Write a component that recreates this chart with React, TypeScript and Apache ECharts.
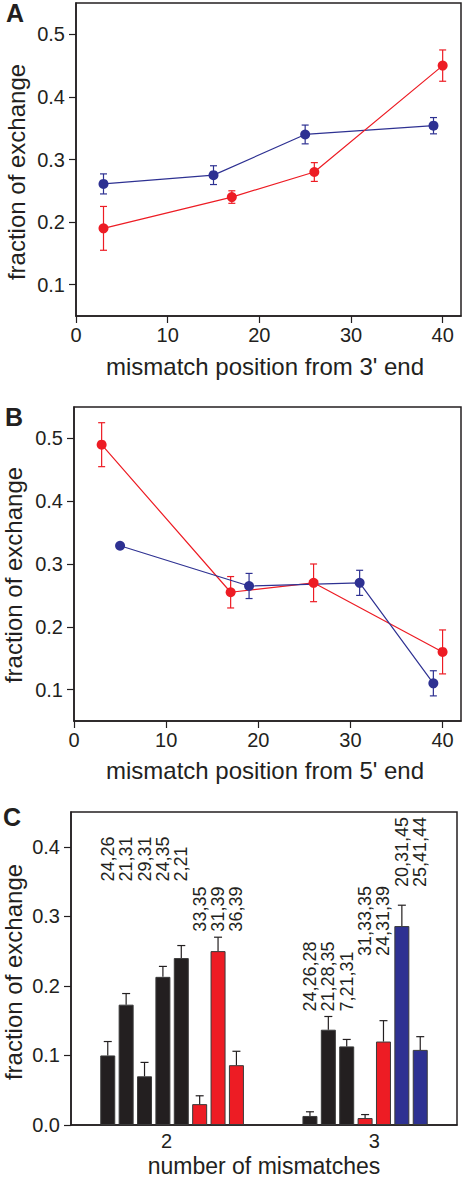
import React, { useEffect, useRef } from "react";
import * as echarts from "echarts";

// ---------- Panel A: mismatch position from 3' end ----------
const aBlueX = [3, 15, 25, 39];
const aBlueY = [0.261, 0.275, 0.34, 0.354];
const aBlueErr = [0.016, 0.015, 0.015, 0.013];
const aRedX = [3, 17, 26, 40];
const aRedY = [0.19, 0.24, 0.28, 0.45];
const aRedErr = [0.035, 0.01, 0.015, 0.025];

// ---------- Panel B: mismatch position from 5' end ----------
const bBlueX = [5, 19, 31, 39];
const bBlueY = [0.329, 0.265, 0.27, 0.11];
const bBlueErr = [0, 0.02, 0.02, 0.02];
const bRedX = [3, 17, 26, 40];
const bRedY = [0.49, 0.255, 0.27, 0.16];
const bRedErr = [0.035, 0.025, 0.03, 0.035];

// ---------- Panel C: number of mismatches ----------
const cGroups = ["2", "3"];
const c2Values = [0.1, 0.173, 0.07, 0.213, 0.24, 0.03, 0.25, 0.086];
const c2Errors = [0.02, 0.016, 0.02, 0.015, 0.018, 0.012, 0.02, 0.02];
const c2Kinds = ["black", "black", "black", "black", "black", "red", "red", "red"];
const c2Labels = ["24,26", "21,31", "29,31", "24,35", "2,21", "33,35", "31,39", "36,39"];
const c3Values = [0.013, 0.137, 0.113, 0.01, 0.12, 0.286, 0.108];
const c3Errors = [0.006, 0.019, 0.01, 0.005, 0.03, 0.03, 0.019];
const c3Kinds = ["black", "black", "black", "red", "red", "blue", "blue"];
const c3Labels = ["24,26,28", "21,28,35", "7,21,31", "31,33,35", "24,31,39", "20,31,45", "25,41,44"];

const xTicks = [0, 10, 20, 30, 40];
const abYTicks = [0.1, 0.2, 0.3, 0.4, 0.5];
const cYTicks = [0, 0.1, 0.2, 0.3, 0.4];

// ---------- layout / style ----------
const FONT = "'Liberation Sans', Arial, Helvetica, sans-serif";
const INK = "#231f20";
const COLORS: Record<string, string> = { black: "#231f20", red: "#ed1c24", blue: "#2e3192" };
const groupStartSlot = [2, 13];
const groupLabelSlot = [5.2, 16.5];
// label start (bottom of rotated text) in data units, per group & colour
const labelBase: Record<string, number>[] = [
  { black: 0.35, red: 0.278 },
  { black: 0.163, red: 0.243, blue: 0.342 },
];

export default function App() {
  const ref = useRef<HTMLDivElement>(null);

  useEffect(() => {
    if (!ref.current) return;
    const chart = echarts.init(ref.current, undefined, { renderer: "svg" });

    const mkPts = (xs: number[], ys: number[]) => xs.map((x, i) => [x, ys[i]]);
    const mkErr = (xs: number[], ys: number[], es: number[]) => xs.map((x, i) => [x, ys[i], es[i]]);

    const errRender = (color: string) => (params: any, api: any) => {
      const x = api.value(0);
      const y = api.value(1);
      const e = api.value(2);
      if (!e) return { type: "group", children: [] };
      const t = api.coord([x, y + e]);
      const b = api.coord([x, y - e]);
      const cw = 3.5;
      const st = { stroke: color, lineWidth: 1.2 };
      return {
        type: "group",
        children: [
          { type: "line", shape: { x1: t[0], y1: t[1], x2: b[0], y2: b[1] }, style: st },
          { type: "line", shape: { x1: t[0] - cw, y1: t[1], x2: t[0] + cw, y2: t[1] }, style: st },
          { type: "line", shape: { x1: b[0] - cw, y1: b[1], x2: b[0] + cw, y2: b[1] }, style: st },
        ],
      };
    };

    // panel C data assembled
    const cVals = [c2Values, c3Values];
    const cErrs = [c2Errors, c3Errors];
    const cKinds = [c2Kinds, c3Kinds];
    const cLabs = [c2Labels, c3Labels];
    const barData: any[] = [];
    const barErr: any[] = [];
    const barLab: any[] = [];
    cVals.forEach((vals, g) => {
      vals.forEach((v, i) => {
        const slot = groupStartSlot[g] + i;
        const kind = cKinds[g][i];
        barData.push({ value: [slot, v], itemStyle: { color: COLORS[kind] } });
        barErr.push([slot, v, cErrs[g][i]]);
        barLab.push({ value: [slot, labelBase[g][kind]], name: cLabs[g][i] });
      });
    });

    const axisLine = { show: true, lineStyle: { color: INK, width: 1.5 } };
    const axisTick = { show: true, inside: false, length: 7, lineStyle: { color: INK, width: 1.2 } };
    const labelStyle = { color: INK, fontSize: 20, fontFamily: FONT };

    const lineSeries = (xi: number, color: string, pts: number[][]) => ({
      type: "line",
      xAxisIndex: xi,
      yAxisIndex: xi,
      data: pts,
      symbol: "circle",
      symbolSize: 10,
      lineStyle: { color, width: 1.2 },
      itemStyle: { color },
      z: 3,
    });
    const errSeries = (xi: number, color: string, data: number[][]) => ({
      type: "custom",
      xAxisIndex: xi,
      yAxisIndex: xi,
      data,
      encode: { x: 0, y: 1 },
      renderItem: errRender(color),
      clip: false,
      z: 2,
    });

    const text = (t: string, x: number, y: number, opts: any = {}) => ({
      type: "text",
      x,
      y,
      rotation: opts.rot || 0,
      style: {
        text: t,
        fill: INK,
        font: `${opts.bold ? "bold " : ""}${opts.size || 24}px ${FONT}`,
        textAlign: opts.align || "center",
        textVerticalAlign: opts.valign || "middle",
        align: opts.align || "center",
        verticalAlign: opts.valign || "middle",
      },
    });

    chart.setOption({
      animation: false,
      grid: [
        { left: 76, top: 3, width: 385, height: 313, show: true, borderColor: INK, borderWidth: 1.5, containLabel: false },
        { left: 74, top: 407, width: 387, height: 314, show: true, borderColor: INK, borderWidth: 1.5, containLabel: false },
        { left: 71, top: 812, width: 386, height: 313, show: true, borderColor: INK, borderWidth: 1.5, containLabel: false },
      ],
      xAxis: [0, 1].map((gi) => ({
        type: "value",
        gridIndex: gi,
        min: 0,
        max: 42,
        axisLine,
        axisTick: { ...axisTick, customValues: xTicks },
        axisLabel: { ...labelStyle, margin: 9, customValues: xTicks, formatter: (v: number) => String(v) },
        splitLine: { show: false },
      })).concat([
        {
          type: "value",
          gridIndex: 2,
          min: 0,
          max: 21,
          axisLine,
          axisTick: { show: false },
          axisLabel: {
            ...labelStyle,
            margin: 6,
            customValues: groupLabelSlot,
            formatter: (v: number) => {
              let best = 0;
              groupLabelSlot.forEach((s, i) => {
                if (Math.abs(s - v) < Math.abs(groupLabelSlot[best] - v)) best = i;
              });
              return cGroups[best];
            },
          },
          splitLine: { show: false },
        } as any,
      ]),
      yAxis: [0, 1].map((gi) => ({
        type: "value",
        gridIndex: gi,
        min: 0.05,
        max: 0.55,
        axisLine,
        axisTick: { ...axisTick, customValues: abYTicks },
        axisLabel: { ...labelStyle, margin: 11, customValues: abYTicks, formatter: (v: number) => v.toFixed(1) },
        splitLine: { show: false },
      })).concat([
        {
          type: "value",
          gridIndex: 2,
          min: 0,
          max: 0.45,
          axisLine,
          axisTick: { ...axisTick, customValues: cYTicks },
          axisLabel: { ...labelStyle, margin: 11, customValues: cYTicks, formatter: (v: number) => v.toFixed(1) },
          splitLine: { show: false },
        } as any,
      ]),
      series: [
        errSeries(0, COLORS.blue, mkErr(aBlueX, aBlueY, aBlueErr)),
        errSeries(0, COLORS.red, mkErr(aRedX, aRedY, aRedErr)),
        lineSeries(0, COLORS.blue, mkPts(aBlueX, aBlueY)),
        lineSeries(0, COLORS.red, mkPts(aRedX, aRedY)),
        errSeries(1, COLORS.blue, mkErr(bBlueX, bBlueY, bBlueErr)),
        errSeries(1, COLORS.red, mkErr(bRedX, bRedY, bRedErr)),
        lineSeries(1, COLORS.red, mkPts(bRedX, bRedY)),
        lineSeries(1, COLORS.blue, mkPts(bBlueX, bBlueY)),
        {
          type: "bar",
          xAxisIndex: 2,
          yAxisIndex: 2,
          data: barData,
          barWidth: 15,
          itemStyle: { borderColor: "#3a3a3a", borderWidth: 1 },
          z: 2,
        },
        {
          type: "custom",
          xAxisIndex: 2,
          yAxisIndex: 2,
          data: barErr,
          encode: { x: 0, y: 1 },
          clip: false,
          z: 3,
          renderItem: (params: any, api: any) => {
            const x = api.value(0);
            const y = api.value(1);
            const e = api.value(2);
            const b = api.coord([x, y]);
            const t = api.coord([x, y + e]);
            const st = { stroke: INK, lineWidth: 1.2 };
            return {
              type: "group",
              children: [
                { type: "line", shape: { x1: b[0], y1: b[1], x2: t[0], y2: t[1] }, style: st },
                { type: "line", shape: { x1: t[0] - 4, y1: t[1], x2: t[0] + 4, y2: t[1] }, style: st },
              ],
            };
          },
        },
        {
          type: "custom",
          xAxisIndex: 2,
          yAxisIndex: 2,
          data: barLab,
          encode: { x: 0, y: 1 },
          clip: false,
          z: 4,
          renderItem: (params: any, api: any) => {
            const p = api.coord([api.value(0), api.value(1)]);
            const item = barLab[params.dataIndex];
            return {
              type: "text",
              x: p[0],
              y: p[1],
              rotation: Math.PI / 2,
              style: {
                text: item.name,
                fill: INK,
                font: `18px ${FONT}`,
                align: "left",
                verticalAlign: "middle",
                textAlign: "left",
                textVerticalAlign: "middle",
              },
            };
          },
        },
      ],
      graphic: [
        text("A", 6, 13, { bold: true, size: 25, align: "left" }),
        text("B", 5, 417, { bold: true, size: 25, align: "left" }),
        text("C", 3, 817, { bold: true, size: 25, align: "left" }),
        text("fraction of exchange", 16, 172, { rot: Math.PI / 2 }),
        text("mismatch position from 3' end", 265, 366),
        text("fraction of exchange", 13, 575, { rot: Math.PI / 2 }),
        text("mismatch position from 5' end", 265, 770),
        text("fraction of exchange", 13, 972, { rot: Math.PI / 2 }),
        text("number of mismatches", 264, 1154, { size: 23, valign: "top" }),
      ],
    });

    return () => chart.dispose();
  }, []);

  return (
    <div
      ref={ref}
      style={{ position: "absolute", left: 0, top: 0, width: 462, height: 1177, background: "#fff" }}
    />
  );
}
